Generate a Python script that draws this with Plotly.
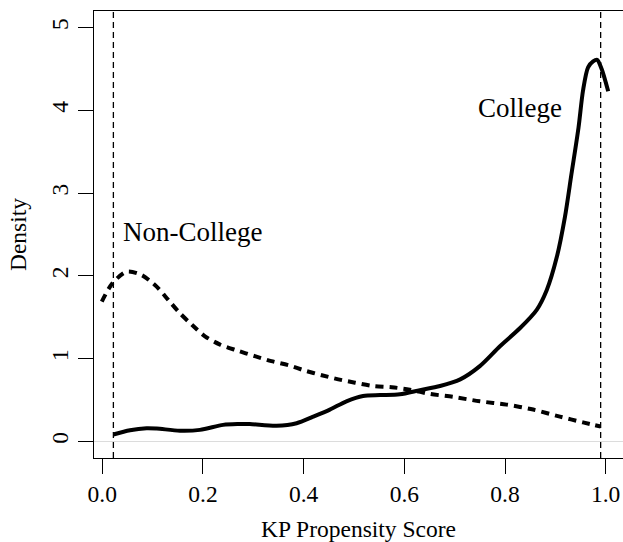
import plotly.graph_objects as go

# ---- data ----
college_x = [0.022, 0.055, 0.088, 0.108, 0.154, 0.194, 0.24, 0.27, 0.293, 0.346, 0.386, 0.419,
             0.452, 0.485, 0.518, 0.552, 0.591, 0.631, 0.671, 0.711, 0.75, 0.79, 0.83, 0.863,
             0.883, 0.903, 0.919, 0.932, 0.946, 0.955, 0.965, 0.975, 0.983, 0.992, 1.005]
college_y = [0.084, 0.136, 0.16, 0.156, 0.13, 0.14, 0.2, 0.21, 0.21, 0.19, 0.22, 0.30,
             0.385, 0.485, 0.55, 0.56, 0.57, 0.62, 0.67, 0.75, 0.91, 1.15, 1.37, 1.59,
             1.83, 2.23, 2.71, 3.23, 3.79, 4.24, 4.52, 4.59, 4.61, 4.50, 4.23]

noncollege_x = [-0.001, 0.02, 0.048, 0.078, 0.108, 0.131, 0.154, 0.178, 0.204, 0.234, 0.267,
                0.303, 0.336, 0.37, 0.403, 0.436, 0.469, 0.502, 0.538, 0.575, 0.611, 0.651,
                0.697, 0.75, 0.803, 0.856, 0.909, 0.955, 0.99]
noncollege_y = [1.69, 1.91, 2.05, 2.01, 1.87, 1.71, 1.55, 1.41, 1.27, 1.17, 1.10,
                1.03, 0.97, 0.92, 0.855, 0.80, 0.75, 0.71, 0.67, 0.655, 0.625, 0.574,
                0.538, 0.485, 0.445, 0.385, 0.30, 0.23, 0.18]

vline_x = [0.022, 0.99]

x_ticks = [0.0, 0.2, 0.4, 0.6, 0.8, 1.0]
x_ticklabels = ["0.0", "0.2", "0.4", "0.6", "0.8", "1.0"]
y_ticks = [0, 1, 2, 3, 4, 5]
y_ticklabels = ["0", "1", "2", "3", "4", "5"]

label_text = ["Non-College", "College"]
label_x = [0.18, 0.83]
label_y = [2.53, 4.03]

FONT = "Liberation Serif"

fig = go.Figure()
fig.add_trace(go.Scatter(x=noncollege_x, y=noncollege_y, mode="lines",
                         line=dict(color="black", width=4, dash="8px,6px", shape="spline",
                                   smoothing=0.8),
                         showlegend=False, hoverinfo="skip"))
fig.add_trace(go.Scatter(x=college_x, y=college_y, mode="lines",
                         line=dict(color="black", width=4, shape="spline", smoothing=0.8),
                         showlegend=False, hoverinfo="skip"))

for vx in vline_x:
    fig.add_shape(type="line", xref="x", yref="paper", x0=vx, x1=vx, y0=0, y1=1,
                  line=dict(color="black", width=1.3, dash="6px,4px"))

for t, lx, ly in zip(label_text, label_x, label_y):
    fig.add_annotation(x=lx, y=ly, xref="x", yref="y", text=t, showarrow=False,
                       font=dict(family=FONT, size=27, color="black"))

fig.update_layout(
    width=623, height=542,
    margin=dict(l=94, r=0, t=11, b=84),
    paper_bgcolor="white", plot_bgcolor="white",
    font=dict(family=FONT, size=23, color="black"),
    showlegend=False,
)
fig.update_xaxes(range=[-0.0165, 1.0344], tickvals=x_ticks, ticktext=x_ticklabels,
                 ticks="outside", ticklen=15, tickwidth=1.3, tickcolor="black",
                 showline=True, linecolor="black", linewidth=1.3, mirror=True,
                 showgrid=False, zeroline=False,
                 tickfont=dict(family=FONT, size=23.5, color="black"),
                 title=dict(text="KP Propensity Score", font=dict(family=FONT, size=23.5),
                            standoff=14))
fig.update_yaxes(range=[-0.2, 5.2], tickvals=y_ticks, ticktext=y_ticklabels,
                 ticks="outside", ticklen=15, tickwidth=1.3, tickcolor="black",
                 tickangle=-90,
                 showline=True, linecolor="black", linewidth=1.3, mirror=False,
                 showgrid=False, zeroline=True, zerolinecolor="#dcdcdc", zerolinewidth=1,
                 tickfont=dict(family=FONT, size=23.5, color="black"),
                 title=dict(text="Density", font=dict(family=FONT, size=23.5), standoff=14))

fig.write_html("out.html",
               config={"displayModeBar": False},
               post_script="document.body.style.margin='0';document.body.style.overflow='hidden';")
